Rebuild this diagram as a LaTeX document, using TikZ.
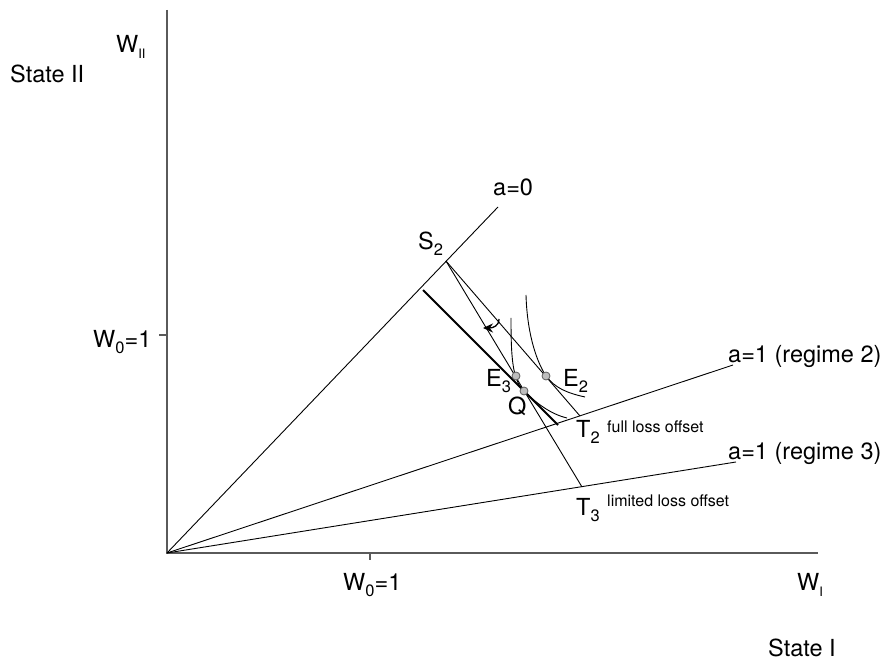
\documentclass[tikz,border=0pt]{standalone}
\usepackage{fontspec}
\setmainfont{TeX Gyre Heros}
\usetikzlibrary{arrows.meta}
\definecolor{axisgray}{HTML}{5A5A5A}
\definecolor{dotgray}{HTML}{BEBEBE}
\newcommand{\lo}[2][16.5]{\raisebox{-6pt}{\fontsize{#1}{#1}\selectfont #2}}
\tikzset{
  daxis/.style={draw=axisgray, line width=1.1pt},
  dline/.style={draw=black, line width=0.9pt},
  dthick/.style={draw=black, line width=1.8pt},
  dlbl/.style={anchor=base west, inner sep=0pt, font=\fontsize{23.5}{27}\selectfont},
  dsmall/.style={dlbl, font=\fontsize{16}{19}\selectfont},
  ddot/.style={circle, draw=axisgray, fill=dotgray, line width=0.8pt, minimum size=8pt, inner sep=0pt},
  dturn/.style={-{Stealth[length=10pt, width=9pt]}, line width=1.3pt},
}
\begin{document}
\begin{tikzpicture}[x=1pt, y=-1pt]
  \useasboundingbox (0,0) rectangle (887,660);
  % axes
  \coordinate (O) at (167,553);
  \coordinate (ytop) at (167,10);
  \coordinate (xend) at (818,553);
  \draw[daxis] (ytop) -- (O) -- (xend);
  \draw[daxis] (159,335) -- (167,335);
  \draw[daxis] (370,553) -- (370,560);
  % rays
  \coordinate (a0) at (498,207);
  \coordinate (r2) at (733,365);
  \coordinate (r3) at (736,462);
  \draw[dline] (O) -- (a0);
  \draw[dline] (O) -- (r2);
  \draw[dline] (O) -- (r3);
  % budget lines
  \coordinate (S2) at (446,261);
  \coordinate (T2) at (580,416);
  \coordinate (T3) at (582,487);
  \draw[dline] (S2) -- (T2);
  \draw[dline] (S2) -- (T3);
  \coordinate (k1) at (423,290);
  \coordinate (k2) at (558,425);
  \draw[dthick] (k1) -- (k2);
  % indifference curves
  \coordinate (u1) at (526,295);
  \coordinate (u2) at (585,397);
  \coordinate (v1) at (511,318);
  \coordinate (v2) at (567,418);
  \draw[dline] (u1) .. controls (527,330) and (535,359) .. (546,376)
    .. controls (555,388) and (567,393) .. (u2);
  \draw[dline] (v1) .. controls (511,355) and (512,380) .. (524,391)
    .. controls (535,402) and (550,414) .. (v2);
  % rotation arrow
  \coordinate (arrS) at (499,319);
  \coordinate (arrE) at (483,328);
  \draw[dturn] (arrS) .. controls (499,326) and (493,328) .. (arrE);
  % points
  \node[ddot] (E2) at (546,376) {};
  \node[ddot] (E3) at (516,376) {};
  \node[ddot] (Q) at (524,391) {};
  % labels
  \node[dlbl] (stII) at (10,83) {State II};
  \node[dlbl] (wII) at (116,53) {W\lo[13]{II}};
  \node[dlbl] (w0y) at (93,348) {W\lo{0}=1};
  \node[dlbl] (w0x) at (343,590) {W\lo{0}=1};
  \node[dlbl] (wI) at (797,590) {W\lo[13]{I}};
  \node[dlbl] (stI) at (768,656) {State I};
  \node[dlbl] (la0) at (493,196) {a=0};
  \node[dlbl] (lS2) at (418,250) {S\lo{2}};
  \node[dlbl] (lE2) at (563,387) {E\lo{2}};
  \node[dlbl] (lE3) at (486,387) {E\lo{3}};
  \node[dlbl] (lQ) at (508,415) {Q};
  \node[dlbl] (lT2) at (576,438) {T\lo{2}};
  \node[dsmall] (full) at (607,432) {full loss offset};
  \node[dlbl] (lT3) at (576,515) {T\lo{3}};
  \node[dsmall] (limited) at (607,506) {limited loss offset};
  \node[dlbl] (reg2) at (728,363) {a=1 (regime 2)};
  \node[dlbl] (reg3) at (728,460) {a=1 (regime 3)};
\end{tikzpicture}
\end{document}
